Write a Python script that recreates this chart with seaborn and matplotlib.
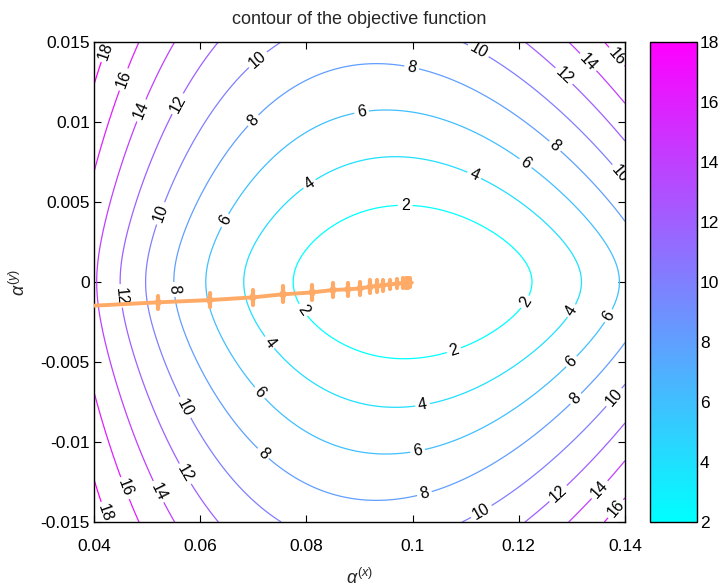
import numpy as np
import matplotlib
matplotlib.use("Agg")
import matplotlib.pyplot as plt
import matplotlib.colors as mcolors
import matplotlib.cm as cm
import seaborn as sns

# ---- data ----
levels = [2, 4, 6, 8, 10, 12, 14, 16, 18]
x_ticks = [0.04, 0.06, 0.08, 0.1, 0.12, 0.14]
x_ticklabels = ["0.04", "0.06", "0.08", "0.1", "0.12", "0.14"]
y_ticks = [-0.015, -0.01, -0.005, 0, 0.005, 0.01, 0.015]
y_ticklabels = ["-0.015", "-0.01", "-0.005", "0", "0.005", "0.01", "0.015"]
cbar_ticks = [2, 4, 6, 8, 10, 12, 14, 16, 18]

# objective-function model parameters (fitted to contour crossings in the picture)
center_x = 0.1
center_y = 0.0
scale_x = 0.0159
amp_y = 2.1
scale_y = 0.00285
k1 = 6.2
k2 = -30.0

# optimisation trajectory (iterates)
traj_x = [0.04, 0.0521, 0.0618, 0.0699, 0.0756, 0.0811, 0.0850, 0.0878, 0.0901,
          0.0920, 0.0933, 0.0944, 0.0957, 0.0971, 0.0982, 0.0988, 0.0992, 0.0995]
traj_y = [-0.00148, -0.00127, -0.00113, -0.00096, -0.00077, -0.00065, -0.0005,
          -0.00046, -0.0004, -0.0003, -0.00025, -0.0002, -0.00015, -0.0001,
          -0.00008, -0.00006, -0.00005, -0.00004]
spike_h = [0.0, 0.0004, 0.00045, 0.00045, 0.0005, 0.00045, 0.00045, 0.0004,
           0.0004, 0.0004, 0.00035, 0.00035, 0.0003, 0.0003, 0.0003, 0.0003,
           0.0003, 0.00028]

# contour label positions
label_pos = [
    (0.0417, 0.0145), (0.0411, -0.01456),
    (0.0458, 0.01263), (0.0449, -0.0130), (0.1372, 0.01375), (0.1381, -0.01413),
    (0.0496, 0.01063), (0.0509, -0.01331), (0.1315, 0.01325), (0.1349, -0.01288),
    (0.0562, 0.01106), (0.0449, -0.000875), (0.0558, -0.01225), (0.1278, 0.01263), (0.1268, -0.0130),
    (0.0709, 0.01388), (0.0524, 0.00431), (0.0562, -0.0080), (0.1117, 0.01406),
    (0.1381, 0.0065), (0.1381, -0.00725), (0.1127, -0.01420),
    (0.0995, 0.01288), (0.0709, 0.00981), (0.0539, -0.0005), (0.0716, -0.01081),
    (0.1283, 0.00906), (0.1306, -0.00725), (0.1023, -0.01331),
    (0.0907, 0.0100), (0.0652, 0.00375), (0.0703, -0.00719), (0.1206, 0.00713),
    (0.1376, -0.00225), (0.1306, -0.00519), (0.1010, -0.01063),
    (0.0811, 0.00588), (0.0720, -0.00406), (0.1112, 0.00638), (0.1306, -0.00194), (0.1020, -0.00788),
    (0.0986, 0.00481), (0.0780, -0.00206), (0.1221, -0.00144), (0.1082, -0.00469),
]

# ---- style ----
sns.set_theme(style="white")
plt.rcParams["font.family"] = ["Liberation Sans", "DejaVu Sans"]
plt.rcParams["mathtext.fontset"] = "custom"
plt.rcParams["mathtext.rm"] = "Liberation Sans"
plt.rcParams["mathtext.it"] = "Liberation Sans:italic"

fig = plt.figure(figsize=(7.21, 5.87), dpi=100)
ax = fig.add_axes([94 / 721, 1 - 522 / 587, 531 / 721, 480 / 587])
cax = fig.add_axes([650 / 721, 1 - 522 / 587, 47 / 721, 480 / 587])

gx = np.linspace(0.04, 0.14, 500)
gy = np.linspace(-0.015, 0.015, 500)
X, Y = np.meshgrid(gx, gy)
U = X - center_x
V = Y - center_y
G = amp_y * (np.sqrt(1 + (V / scale_y) ** 2) - 1)
Z = (U / scale_x) ** 2 + (1 + k1 * U + k2 * U ** 2) * G

norm = mcolors.Normalize(vmin=2, vmax=18)
cs = ax.contour(X, Y, Z, levels=levels, cmap="cool", norm=norm, linewidths=0.9)
ax.clabel(cs, manual=label_pos, inline=True, inline_spacing=3, fontsize=11.5,
          colors="black", fmt="%g")

orange = "#FFAA66"
sns.lineplot(x=traj_x, y=traj_y, sort=False, estimator=None, ax=ax,
             color=orange, linewidth=2.8, zorder=5)
w = 0.0008
for xi, yi, hi in zip(traj_x, traj_y, spike_h):
    if hi <= 0:
        continue
    ax.fill([xi - w, xi - w / 3, xi, xi + w / 3, xi + w, xi + w / 3, xi, xi - w / 3],
            [yi, yi + hi * 0.6, yi + hi, yi + hi * 0.6, yi, yi - hi * 0.6, yi - hi, yi - hi * 0.6],
            color=orange, lw=0, zorder=5)
    ax.plot([xi, xi], [yi - hi, yi + hi], color=orange, lw=3.0, zorder=5)

ax.set_xlim(0.04, 0.14)
ax.set_ylim(-0.015, 0.015)
ax.set_xticks(x_ticks)
ax.set_xticklabels(x_ticklabels)
ax.set_yticks(y_ticks)
ax.set_yticklabels(y_ticklabels)
ax.tick_params(direction="in", top=True, right=True, bottom=True, left=True,
               length=5, width=0.8, labelsize=12.5, colors="black", pad=3)
ax.tick_params(axis="x", pad=12)
for s in ax.spines.values():
    s.set_color("black")
    s.set_linewidth(1.0)

ax.set_title("contour of the objective function", fontsize=13, pad=13)
ax.set_xlabel(r"$\alpha^{(x)}$", fontsize=13, labelpad=10)
ax.set_ylabel(r"$\alpha^{(y)}$", fontsize=13, labelpad=8)

sm = cm.ScalarMappable(norm=norm, cmap="cool")
cb = fig.colorbar(sm, cax=cax)
cb.set_ticks(cbar_ticks)
cb.outline.set_edgecolor("black")
cb.outline.set_linewidth(1.0)
cax.tick_params(direction="in", left=True, right=True, length=5, width=0.8,
                labelsize=12.5, colors="black", pad=2)

fig.savefig("out.png", dpi=100)
